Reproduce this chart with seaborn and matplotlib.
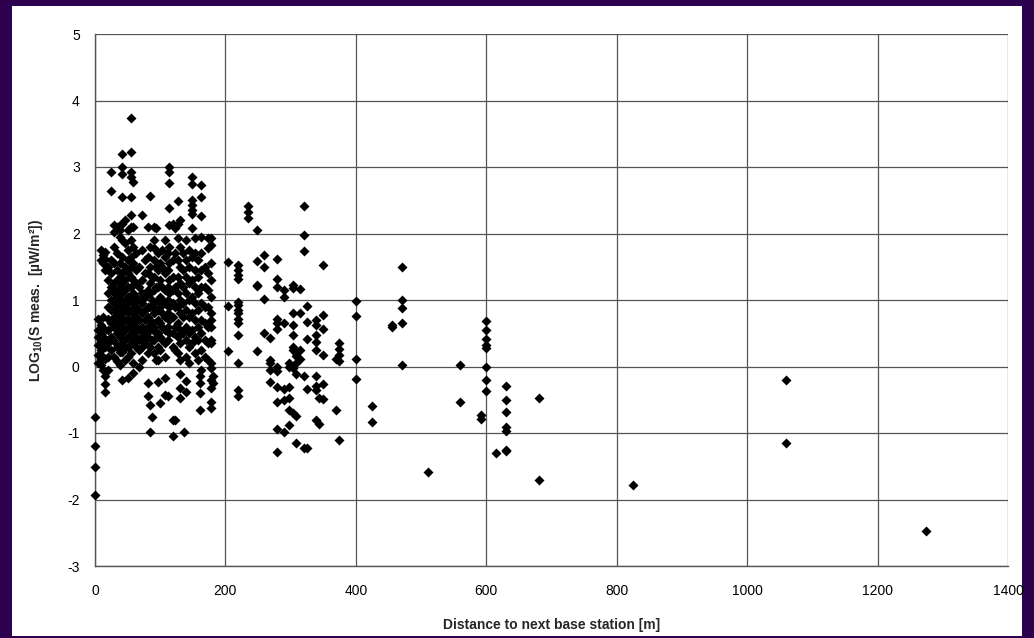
import matplotlib
matplotlib.use("Agg")
import matplotlib.pyplot as plt
import seaborn as sns
import pandas as pd

# measured field levels, grouped by distance column (m) -> log10 S values
near_dist = [5, 9, 12, 16, 20, 25, 29, 33, 38, 42, 46, 50, 55, 58, 63, 67, 72, 76,
             81, 84, 87, 90, 93, 96, 99, 103, 107, 112, 114, 119, 122, 127, 130,
             135, 137, 140, 144, 148, 154, 158, 161, 163, 168, 174, 178, 181]
near_levels = [
    [0.72, 0.55, 0.45, 0.32, 0.18, 0.05],
    [1.75, 1.6, 0.62, 0.5, 0.38, 0.25, 0.12, 0.02],
    [1.68, 1.55, 0.74, 0.45, 0.3, 0.15, -0.05],
    [1.72, 1.62, 1.45, 0.55, 0.42, 0.3, 0.12, -0.15, -0.27, -0.39],
    [1.5, 1.3, 1.1, 0.9, 0.72, 0.55, 0.35, 0.15, -0.05],
    [2.93, 2.64, 1.6, 1.4, 1.2, 1.0, 0.85, 0.65, 0.45, 0.25],
    [2.13, 2.03, 1.8, 1.55, 1.25, 1.1, 0.95, 0.75, 0.6, 0.38, 0.15],
    [2.1, 1.7, 1.45, 1.3, 1.15, 1.05, 0.9, 0.8, 0.65, 0.5, 0.3, 0.08],
    [2.13, 2.05, 1.95, 1.55, 1.35, 1.2, 1.1, 1.0, 0.85, 0.75, 0.6, 0.45, 0.22, 0.02],
    [3.19, 3.0, 2.9, 2.55, 2.15, 1.9, 1.65, 1.4, 1.25, 1.1, 0.95, 0.8, 0.65, 0.5, 0.35, 0.22, -0.2],
    [2.2, 1.85, 1.5, 1.3, 1.15, 1.0, 0.9, 0.7, 0.55, 0.4, 0.28, 0.1],
    [2.05, 1.75, 1.6, 1.4, 1.2, 1.05, 0.95, 0.8, 0.7, 0.6, 0.45, 0.3, 0.15, -0.17],
    [3.74, 3.23, 2.93, 2.85, 2.55, 2.28, 2.1, 1.9, 1.65, 1.5, 1.35, 1.2, 1.0, 0.85, 0.7, 0.55, 0.4, 0.2],
    [2.78, 2.1, 1.8, 1.55, 1.3, 1.1, 0.95, 0.8, 0.65, 0.5, 0.35, 0.05, -0.1],
    [1.7, 1.45, 1.25, 1.05, 0.9, 0.75, 0.6, 0.45, 0.3],
    [1.5, 1.2, 1.0, 0.85, 0.7, 0.55, 0.4, 0.25, 0.0],
    [2.28, 1.75, 1.3, 1.1, 0.95, 0.8, 0.6, 0.45, 0.3, 0.1],
    [1.6, 1.4, 1.05, 0.85, 0.7, 0.5, 0.35],
    [2.1, 1.65, 1.4, 1.15, 0.9, 0.75, 0.6, 0.45, 0.2, -0.25, -0.44],
    [2.56, 1.8, 1.5, 1.25, 1.1, 0.9, 0.7, 0.55, 0.3, -0.58, -0.99],
    [1.35, 1.0, 0.65, 0.4, -0.76],
    [2.1, 1.9, 1.78, 1.6, 1.35, 1.15, 0.95, 0.8, 0.6, 0.4, 0.2],
    [2.08, 1.5, 1.2, 0.85, 0.5, 0.1],
    [1.7, 1.45, 1.2, 1.0, 0.85, 0.7, 0.5, 0.3, 0.1, -0.23],
    [1.55, 1.3, 1.05, 0.9, 0.65, 0.45, 0.25, -0.55],
    [1.75, 1.5, 1.2, 1.0, 0.8, 0.6, 0.4],
    [1.9, 1.65, 1.4, 1.15, 0.95, 0.75, 0.55, 0.35, 0.15, -0.18, -0.43],
    [1.7, 1.45, 1.2, 1.0, 0.8, 0.6, 0.4, -0.45],
    [3.0, 2.93, 2.76, 2.38, 2.13, 1.8, 1.55, 1.3, 1.1, 0.9, 0.7, 0.5],
    [2.15, 1.6, 1.35, 1.15, 0.95, 0.75, 0.5, 0.3, -0.81, -1.04],
    [2.08, 1.7, 1.2, 0.9, 0.6, 0.25, -0.8],
    [2.49, 2.15, 1.93, 1.6, 1.35, 1.1, 0.9, 0.65, 0.45, 0.2],
    [2.2, 1.8, 1.5, 1.25, 1.0, 0.8, 0.55, 0.35, 0.1, -0.12, -0.33, -0.48],
    [1.7, 1.45, 1.2, 0.95, 0.75, 0.5],
    [-0.99],
    [1.9, 1.6, 1.35, 1.1, 0.85, 0.6, 0.4, 0.15, -0.22, -0.38],
    [1.75, 1.5, 1.25, 1.0, 0.75, 0.5, 0.3, 0.05],
    [2.85, 2.75, 2.5, 2.43, 2.35, 2.3, 2.09, 1.65, 1.3, 1.05, 0.8, 0.55, 0.35],
    [1.93, 1.7, 1.45, 1.2, 0.95, 0.7, 0.45, 0.2],
    [1.6, 1.35, 1.1, 0.85, 0.6, 0.4, 0.1],
    [-0.15, -0.25, -0.4, -0.66],
    [2.73, 2.55, 2.27, 1.95, 1.7, 1.45, 1.2, 0.95, 0.7, 0.5, 0.25, -0.05],
    [1.5, 1.2, 0.9, 0.65, 0.4, 0.15],
    [1.93, 1.78, 1.4, 1.15, 0.9, 0.6, 0.35, 0.1],
    [1.93, 1.82, 1.56, 1.3, 1.05, 0.8, 0.7, 0.6, 0.4, 0.35, 0.05, -0.02, -0.2, -0.32, -0.54, -0.62],
    [-0.15, -0.25],
]

far_dist = [0, 204, 219, 234, 249, 259, 268, 279, 290, 297, 304, 308, 314, 320, 325,
            339, 344, 350, 369, 374, 400, 425, 455, 470, 510, 560, 592, 600, 615,
            630, 681, 825, 1060, 1275]
far_levels = [
    [-0.76, -1.2, -1.51, -1.93],
    [1.57, 0.91, 0.23],
    [1.52, 1.45, 1.37, 1.32, 0.97, 0.93, 0.85, 0.8, 0.72, 0.65, 0.47, 0.05, -0.35, -0.44],
    [2.42, 2.32, 2.23],
    [2.05, 1.59, 1.23, 1.21, 0.23],
    [1.67, 1.49, 1.02, 0.5],
    [0.43, 0.1, 0.05, -0.05, -0.24],
    [1.62, 1.32, 1.2, 0.72, 0.65, 0.56, 0.0, -0.07, -0.31, -0.53, -0.94, -1.29],
    [1.15, 1.05, 0.65, -0.34, -0.51, -0.99],
    [0.05, 0.0, -0.31, -0.48, -0.65, -0.88],
    [1.22, 1.18, 0.81, 0.62, 0.47, 0.3, 0.25, -0.02, -0.7],
    [0.2, 0.16, 0.05, -0.12, -0.75, -1.15],
    [1.16, 0.8, 0.25, 0.11],
    [2.42, 1.98, 1.74, -0.15, -1.22],
    [0.91, 0.67, 0.41, -0.34, -1.23],
    [0.7, 0.62, 0.47, 0.37, 0.25, -0.14, -0.3, -0.36, -0.8],
    [-0.48, -0.86],
    [1.53, 0.78, 0.56, 0.17, -0.26, -0.49],
    [0.11, -0.65],
    [0.35, 0.26, 0.17, 0.09, -1.1],
    [0.99, 0.76, 0.12, -0.19],
    [-0.59, -0.83],
    [0.63, 0.6],
    [1.5, 1.0, 0.88, 0.65, 0.03],
    [-1.59],
    [0.02, -0.54],
    [-0.73, -0.79],
    [0.68, 0.55, 0.42, 0.33, 0.28, 0.0, -0.2, -0.37],
    [-1.3],
    [-0.3, -0.51, -0.68, -0.91, -0.97, -1.25, -1.27],
    [-0.47, -1.7],
    [-1.78],
    [-0.2, -1.15],
    [-2.47],
]

x_ticks = [0, 200, 400, 600, 800, 1000, 1200, 1400]
y_ticks = [-3, -2, -1, 0, 1, 2, 3, 4, 5]

rows = []
for d, levels in zip(near_dist + far_dist, near_levels + far_levels):
    for v in levels:
        rows.append((d, v))
df = pd.DataFrame(rows, columns=["distance", "log_s"])

sns.set_style("white")
plt.rcParams["font.family"] = ["Liberation Sans", "DejaVu Sans"]
plt.rcParams["mathtext.fontset"] = "custom"
plt.rcParams["mathtext.rm"] = "Liberation Sans:bold"
plt.rcParams["axes.unicode_minus"] = False

W, H = 1034, 638
fig = plt.figure(figsize=(W / 100, H / 100), dpi=100)
fig.patch.set_facecolor("#2d0050")
fig.add_artist(plt.Rectangle((12 / W, 2 / H), (1022 - 12) / W, (632 - 2) / H,
                             transform=fig.transFigure, facecolor="white",
                             edgecolor="none", zorder=0))
ax = fig.add_axes([95 / W, 1 - 566 / H, (1008 - 95) / W, (566 - 34) / H])
ax.set_facecolor("white")

sns.scatterplot(data=df, x="distance", y="log_s", marker="D", color="black",
                s=26, linewidth=0, ax=ax, clip_on=False, zorder=3)

ax.set_xlim(0, 1400)
ax.set_ylim(-3, 5)
ax.set_xticks(x_ticks)
ax.set_yticks(y_ticks)
ax.grid(True, color="#555555", linewidth=0.9)
ax.set_axisbelow(True)
for side in ["top", "right"]:
    ax.spines[side].set_visible(False)
for side in ["left", "bottom"]:
    ax.spines[side].set_color("#555555")
    ax.spines[side].set_linewidth(1.0)
ax.tick_params(axis="both", direction="out", length=4, width=0.9, color="#555555",
               labelsize=10, labelcolor="black")
ax.tick_params(axis="x", pad=9)
ax.tick_params(axis="y", pad=7)

ax.set_xlabel("Distance to next base station [m]", fontsize=10, fontweight="bold", labelpad=14)
ax.set_ylabel("LOG$_{\\mathregular{10}}$(S meas.  [µW/m²])", fontsize=10,
              fontweight="bold", labelpad=16)

fig.savefig("out.png", dpi=100, facecolor=fig.get_facecolor())
